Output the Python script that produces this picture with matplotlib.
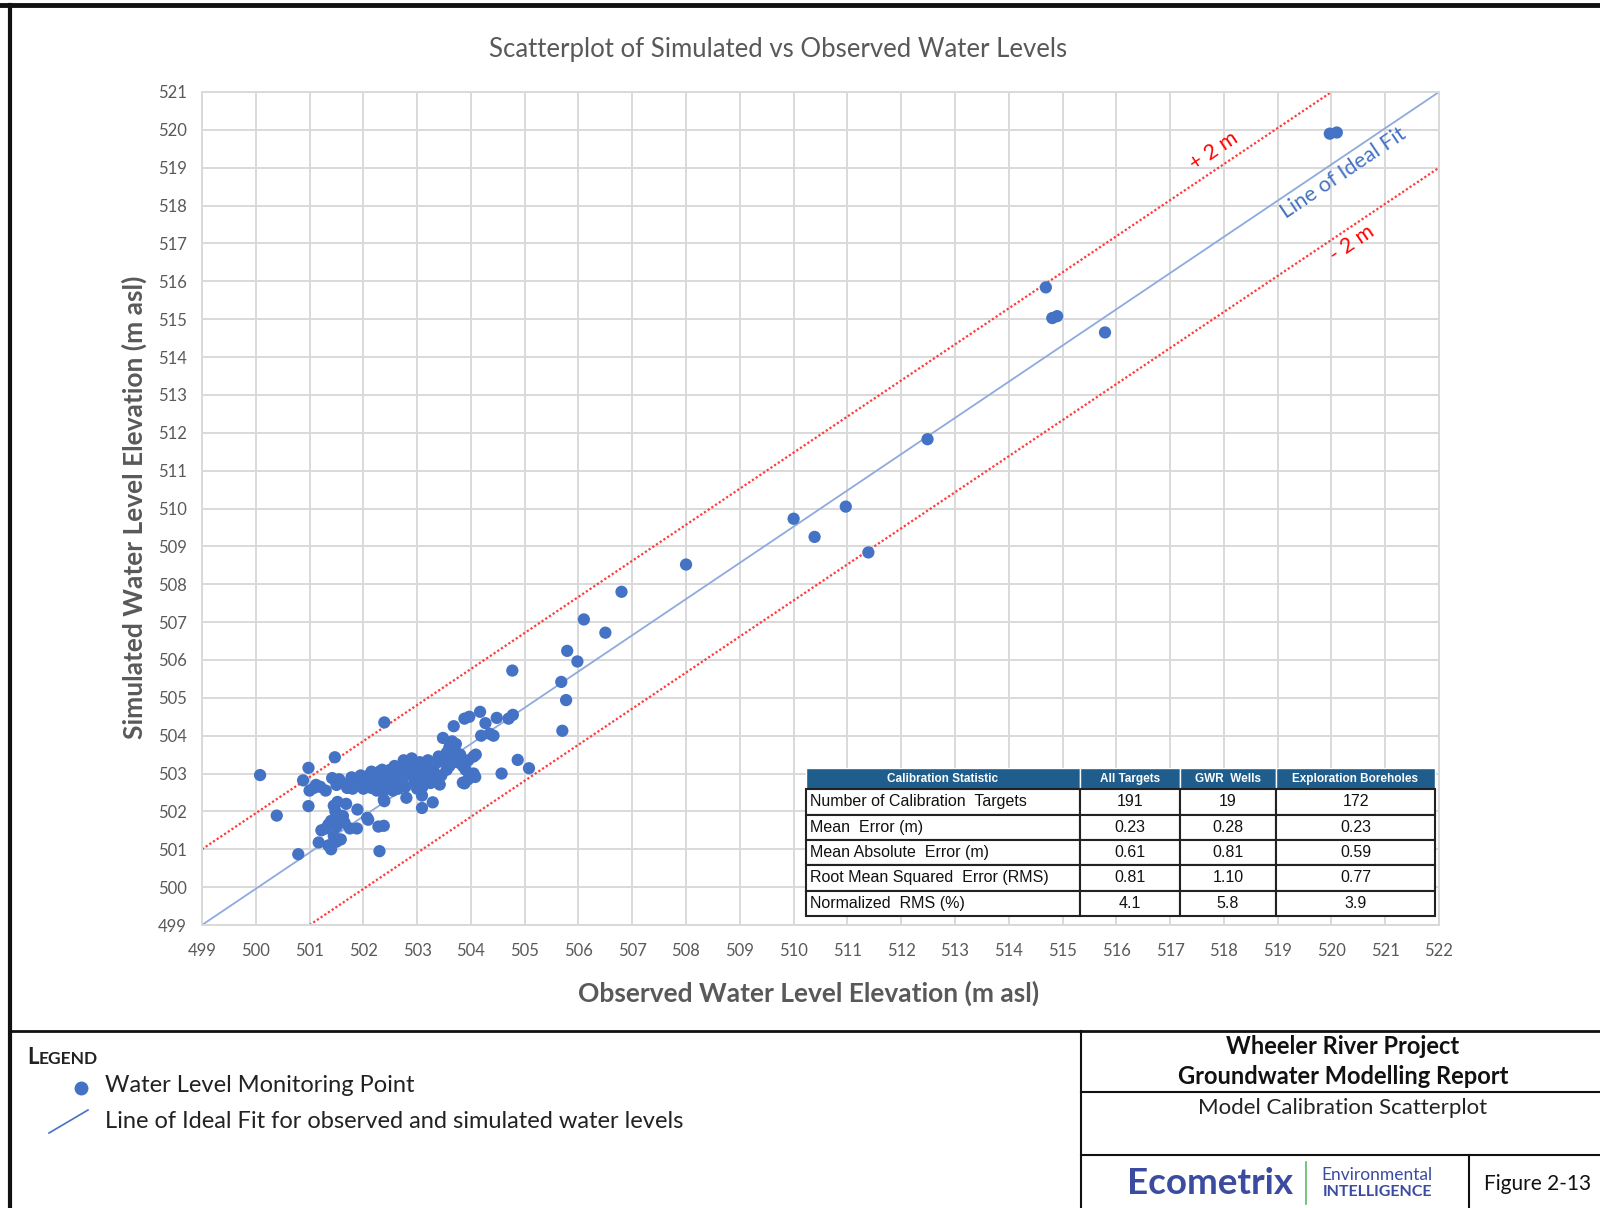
import matplotlib
matplotlib.use("Agg")
import matplotlib.pyplot as plt
from matplotlib.lines import Line2D

plt.rcParams["font.family"] = ["Lato", "DejaVu Sans"]

# observed / simulated water levels (m asl)
observed = [
    500.08, 500.39, 500.79, 500.98, 500.88, 500.98, 501.00, 501.08, 501.20, 501.30,
    501.12, 501.47, 502.39, 502.30,
    501.17, 501.40, 501.35, 501.58, 501.50, 501.45, 501.30, 501.22, 501.35, 501.40,
    501.50, 501.55, 501.48, 501.62, 501.68, 501.52, 501.45, 501.75, 501.88, 501.89,
    501.65, 502.07, 502.28, 502.38, 502.09,
    501.42, 501.55, 501.60, 501.50, 501.70, 501.78, 501.85, 501.80, 501.95, 502.05,
    502.10, 502.00, 502.15, 502.20, 502.25, 502.30, 502.35, 502.42, 502.45, 502.50,
    502.55, 502.60, 502.65, 502.70, 502.72, 502.78, 502.82, 502.88, 502.90, 502.95,
    503.00, 503.05, 503.10, 503.15, 503.20, 503.22, 503.25, 502.55, 502.40, 502.65,
    502.75, 502.90, 503.00, 503.10, 502.15, 502.35, 501.95, 502.25, 502.58, 503.30,
    503.35, 503.42, 503.38,
    502.38, 502.39, 502.80, 503.09, 503.09, 503.29,
    503.48, 503.50, 503.55, 503.60, 503.65, 503.70, 503.63, 503.75, 503.80, 503.72,
    503.68, 503.88, 503.97, 503.85, 503.88, 503.90, 503.95, 504.05, 504.09, 504.05,
    503.95, 503.85, 504.08, 504.17, 504.27, 504.19, 504.35, 504.42, 504.48, 504.70,
    504.78, 504.57, 504.87, 505.08, 504.77, 505.70, 505.77, 505.68, 505.79, 505.98,
    503.55, 503.40, 503.60, 503.45,
    506.10, 506.50, 506.80, 508.00, 510.00, 510.39, 510.97, 511.39, 512.49, 514.69,
    514.81, 514.90, 515.79, 519.97, 520.10,
]
simulated = [
    502.96, 501.89, 500.87, 503.15, 502.82, 502.14, 502.55, 502.62, 502.65, 502.55,
    502.70, 503.43, 504.35, 500.95,
    501.18, 501.00, 501.10, 501.26, 501.20, 501.35, 501.55, 501.50, 501.65, 501.75,
    501.60, 501.90, 502.00, 501.88, 502.20, 502.25, 502.15, 501.55, 501.55, 502.05,
    501.70, 501.83, 501.60, 501.62, 501.78,
    502.88, 502.85, 502.75, 502.70, 502.62, 502.90, 502.75, 502.60, 502.95, 502.80,
    502.95, 502.60, 502.62, 502.78, 502.95, 503.05, 502.80, 502.65, 502.90, 503.10,
    502.95, 502.75, 503.00, 503.15, 502.85, 502.65, 503.05, 503.25, 502.95, 502.78,
    503.10, 503.30, 502.90, 503.20, 503.35, 503.05, 502.75, 502.55, 502.58, 502.60,
    503.35, 503.40, 502.60, 502.65, 503.05, 503.10, 502.70, 502.55, 503.20, 503.10,
    502.85, 502.71, 503.30,
    502.31, 502.27, 502.36, 502.42, 502.09, 502.24,
    503.94, 503.38, 503.55, 503.70, 503.85, 503.62, 503.45, 503.30, 503.50, 503.78,
    504.25, 504.45, 504.50, 502.76, 502.74, 503.10, 503.35, 503.45, 503.50, 503.00,
    502.85, 503.20, 502.91, 504.63, 504.33, 504.00, 504.05, 504.00, 504.47, 504.45,
    504.55, 503.00, 503.36, 503.14, 505.72, 504.13, 504.94, 505.42, 506.24, 505.96,
    503.10, 503.45, 503.20, 502.95,
    507.07, 506.72, 507.80, 508.52, 509.73, 509.25, 510.05, 508.84, 511.83, 515.84,
    515.03, 515.08, 514.65, 519.90, 519.93,
]

# reference lines as drawn on the original chart
ideal_x = [499, 522]
ideal_y = [499, 521]
plus2_x = [499, 520]
plus2_y = [501, 521]
minus2_x = [501, 522]
minus2_y = [499, 519]

x_ticks = list(range(499, 523))
y_ticks = list(range(499, 522))

stat_cols = ["Calibration Statistic", "All Targets", "GWR  Wells", "Exploration Boreholes"]
stat_names = ["Number of Calibration  Targets", "Mean  Error (m)", "Mean Absolute  Error (m)",
              "Root Mean Squared  Error (RMS)", "Normalized  RMS (%)"]
all_targets = ["191", "0.23", "0.61", "0.81", "4.1"]
gwr_wells = ["19", "0.28", "0.81", "1.10", "5.8"]
boreholes = ["172", "0.23", "0.59", "0.77", "3.9"]

W, H = 1600, 1208
fig = plt.figure(figsize=(16, 12.08), dpi=100)


def fx(px):
    return px / W


def fy(py):
    return 1 - py / H


ax = fig.add_axes([fx(202), fy(925), fx(1439) - fx(202), fy(92) - fy(925)])

gray = "#595959"
ax.plot(ideal_x, ideal_y, color="#8FAADC", lw=1.3, zorder=2)
ax.plot(plus2_x, plus2_y, color="#FF3B3B", lw=1.6, ls=(0, (1, 1)), zorder=2)
ax.plot(minus2_x, minus2_y, color="#FF3B3B", lw=1.6, ls=(0, (1, 1)), zorder=2)
ax.scatter(observed, simulated, s=78, color="#4472C4", edgecolors="none", zorder=3)

ax.set_xlim(499, 522)
ax.set_ylim(499, 521)
ax.set_xticks(x_ticks)
ax.set_yticks(y_ticks)
ax.tick_params(length=0, labelsize=12, labelcolor=gray)
ax.tick_params(axis="x", pad=13)
ax.tick_params(axis="y", pad=11)
ax.grid(True, color="#D9D9D9", lw=1.4)
ax.set_axisbelow(True)
for sp in ax.spines.values():
    sp.set_color("#D9D9D9")
    sp.set_linewidth(1.4)

ax.text(517.82, 519.44, "+ 2 m", color="red", fontsize=15.5, rotation=34, ha="center", va="center")
ax.text(520.22, 518.86, "Line of Ideal Fit", color="#4472C4", fontsize=15.5, rotation=34,
        ha="center", va="center")
ax.text(520.38, 517.0, "- 2 m", color="red", fontsize=15.5, rotation=34, ha="center", va="center")

fig.text(fx(778), fy(49), "Scatterplot of Simulated vs Observed Water Levels", fontsize=18.5,
         color=gray, ha="center", va="center")
fig.text(fx(809), fy(993), "Observed Water Level Elevation (m asl)", fontsize=19,
         fontweight="bold", color=gray, ha="center", va="center")
fig.text(fx(134), fy(507), "Simulated Water Level Elevation (m asl)", fontsize=19,
         fontweight="bold", color=gray, ha="center", va="center", rotation=90)

# statistics table
rows = [[n, a, g, b] for n, a, g, b in zip(stat_names, all_targets, gwr_wells, boreholes)]
x0, x1, y0, y1 = 806, 1435, 916, 768
tb = ax.table(cellText=rows, colLabels=stat_cols, cellLoc="center",
              bbox=[(x0 - 202) / 1237, (925 - y0) / 833, (x1 - x0) / 1237, (y0 - y1) / 833])
tb.auto_set_font_size(False)
col_w = [274, 100, 96, 159]
body_font = ["Liberation Sans", "DejaVu Sans"]
for (r, c), cell in tb.get_celld().items():
    cell.set_width(col_w[c])
    txt = cell.get_text()
    txt.set_family(body_font)
    if r == 0:
        cell.set_height(21)
        cell.set_facecolor("#1F5E8C")
        cell.set_edgecolor("white")
        cell.set_linewidth(1.0)
        txt.set_color("white")
        txt.set_fontsize(8.5)
        txt.set_fontweight("bold")
    else:
        cell.set_height(25)
        cell.set_facecolor("white")
        cell.set_edgecolor("#222222")
        cell.set_linewidth(1.5)
        txt.set_fontsize(11.5)
        txt.set_color("#111111")
        if c == 0:
            cell._loc = "left"
            txt.set_ha("left")
            cell.PAD = 0.015
tb.set_zorder(5)

# frame lines
frame = [
    ((0, W), (5, 5), 3.5),
    ((10, 10), (5, H), 3.0),
    ((10, W), (1031, 1031), 2.0),
    ((1081, 1081), (1031, H), 1.5),
    ((1081, W), (1092, 1092), 1.5),
    ((1081, W), (1155, 1155), 1.5),
    ((1469, 1469), (1155, H), 1.5),
]
for xs, ys, lw in frame:
    fig.add_artist(Line2D([fx(v) for v in xs], [fy(v) for v in ys], color="#111111", lw=lw))

# legend block
fig.text(fx(27), fy(1058), "L", fontsize=16, fontweight="bold", color="#222222", va="center")
fig.text(fx(39), fy(1059), "EGEND", fontsize=12.5, fontweight="bold", color="#222222", va="center")
fig.add_artist(Line2D([fx(81)], [fy(1088)], marker="o", ms=10, color="#4472C4", mec="none",
                      ls="none"))
fig.text(fx(105), fy(1086), "Water Level Monitoring Point", fontsize=17, color="#222222",
         va="center")
fig.add_artist(Line2D([fx(49), fx(88)], [fy(1133), fy(1110)], color="#4472C4", lw=1.2))
fig.text(fx(105), fy(1122), "Line of Ideal Fit for observed and simulated water levels",
         fontsize=17, color="#222222", va="center")

# title block
fig.text(fx(1343), fy(1047), "Wheeler River Project", fontsize=17, fontweight="bold",
         color="#111111", ha="center", va="center")
fig.text(fx(1343), fy(1077), "Groundwater Modelling Report", fontsize=17, fontweight="bold",
         color="#111111", ha="center", va="center")
fig.text(fx(1343), fy(1108), "Model Calibration Scatterplot", fontsize=16, color="#222222",
         ha="center", va="center")
fig.text(fx(1210), fy(1184), "Ecometrix", fontsize=26.5, fontweight="bold", color="#3B4BA0",
         ha="center", va="center")
fig.add_artist(Line2D([fx(1306), fx(1306)], [fy(1162), fy(1204)], color="#5DBB63", lw=1.2))
fig.text(fx(1377), fy(1175), "Environmental", fontsize=12.5, color="#3B4BA0",
         ha="center", va="center")
fig.text(fx(1377), fy(1192), "INTELLIGENCE", fontsize=11.5, fontweight="bold", color="#3B4BA0",
         ha="center", va="center")
fig.text(fx(1538), fy(1184), "Figure 2-13", fontsize=15, color="#111111", ha="center",
         va="center")

fig.savefig("out.png", dpi=100, facecolor="white")
